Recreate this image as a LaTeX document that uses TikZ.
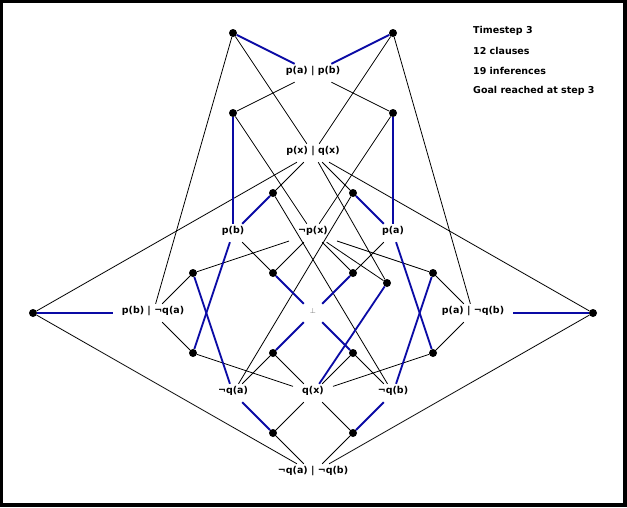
\documentclass[tikz,border=0pt]{standalone}
\usepackage{fontspec}
\setmainfont{DejaVu Sans}
\usepackage{xcolor}
\definecolor{azul}{RGB}{10,10,165}

\begin{document}
\begin{tikzpicture}[x=1pt,y=-1pt,
  clausula/.style={font=\fontsize{9.5}{11}\selectfont\bfseries,inner xsep=9pt,inner ysep=1.5pt,
    text height=7.5pt,text depth=7.5pt},
  inferencia/.style={circle,fill=black,inner sep=0pt,minimum size=8pt},
  premisa/.style={black,line width=0.8pt},
  conclusion/.style={azul,line width=1.8pt},
  dato/.style={font=\fontsize{9.5}{11}\selectfont\bfseries,anchor=west,inner sep=0pt}]
  % Marco
  \fill[black] (0,0) rectangle (627,507);
  \fill[white] (3,3) rectangle (623,503);
  % Clausulas
  \node[clausula] (pab) at (313,73) {p(a) | p(b)};
  \node[clausula] (pxqx) at (313,153) {p(x) | q(x)};
  \node[clausula] (pb) at (233,233) {p(b)};
  \node[clausula] (npx) at (313,233) {¬p(x)};
  \node[clausula] (pa) at (393,233) {p(a)};
  \node[clausula] (pbnqa) at (153,313) {p(b) | ¬q(a)};
  \node[clausula,font=\fontsize{7}{8}\selectfont,text=gray,minimum width=18pt] (bot) at (313,313) {⊥};
  \node[clausula] (panqb) at (473,313) {p(a) | ¬q(b)};
  \node[clausula] (nqa) at (233,393) {¬q(a)};
  \node[clausula] (qx) at (313,393) {q(x)};
  \node[clausula] (nqb) at (393,393) {¬q(b)};
  \node[clausula] (nqanqb) at (313,473) {¬q(a) | ¬q(b)};
  % Inferencias
  \node[inferencia] (i1) at (233,33) {};
  \node[inferencia] (i2) at (393,33) {};
  \node[inferencia] (i3) at (233,113) {};
  \node[inferencia] (i4) at (393,113) {};
  \node[inferencia] (i5) at (273,193) {};
  \node[inferencia] (i6) at (353,193) {};
  \node[inferencia] (i7) at (193,273) {};
  \node[inferencia] (i8) at (273,273) {};
  \node[inferencia] (i9) at (353,273) {};
  \node[inferencia] (i10) at (433,273) {};
  \node[inferencia] (i11) at (387,283) {};
  \node[inferencia] (i12) at (33,313) {};
  \node[inferencia] (i13) at (593,313) {};
  \node[inferencia] (i14) at (193,353) {};
  \node[inferencia] (i15) at (273,353) {};
  \node[inferencia] (i16) at (353,353) {};
  \node[inferencia] (i17) at (433,353) {};
  \node[inferencia] (i18) at (273,433) {};
  \node[inferencia] (i19) at (353,433) {};
  % Premisas
  \draw[premisa] (i1) -- (pxqx) (i1) -- (pbnqa);
  \draw[premisa] (i2) -- (pxqx) (i2) -- (panqb);
  \draw[premisa] (i3) -- (pab) (i3) -- (npx);
  \draw[premisa] (i4) -- (pab) (i4) -- (npx);
  \draw[premisa] (i5) -- (pxqx) (i5) -- (nqb);
  \draw[premisa] (i6) -- (pxqx) (i6) -- (nqa);
  \draw[premisa] (i7) -- (npx) (i7) -- (pbnqa);
  \draw[premisa] (i8) -- (pb) (i8) -- (npx);
  \draw[premisa] (i9) -- (pa) (i9) -- (npx);
  \draw[premisa] (i10) -- (npx) (i10) -- (panqb);
  \draw[premisa] (i11) -- (pxqx) (i11) -- (npx);
  \draw[premisa] (i12) -- (pxqx) (i12) -- (nqanqb);
  \draw[premisa] (i13) -- (pxqx) (i13) -- (nqanqb);
  \draw[premisa] (i14) -- (pbnqa) (i14) -- (qx);
  \draw[premisa] (i15) -- (nqa) (i15) -- (qx);
  \draw[premisa] (i16) -- (qx) (i16) -- (nqb);
  \draw[premisa] (i17) -- (panqb) (i17) -- (qx);
  \draw[premisa] (i18) -- (qx) (i18) -- (nqanqb);
  \draw[premisa] (i19) -- (qx) (i19) -- (nqanqb);
  % Conclusiones
  \draw[conclusion] (i1) -- (pab);
  \draw[conclusion] (i2) -- (pab);
  \draw[conclusion] (i3) -- (pb);
  \draw[conclusion] (i4) -- (pa);
  \draw[conclusion] (i5) -- (pb);
  \draw[conclusion] (i6) -- (pa);
  \draw[conclusion] (i7) -- (nqa);
  \draw[conclusion] (i8) -- (bot);
  \draw[conclusion] (i9) -- (bot);
  \draw[conclusion] (i10) -- (nqb);
  \draw[conclusion] (i11) -- (qx);
  \draw[conclusion] (i12) -- (pbnqa);
  \draw[conclusion] (i13) -- (panqb);
  \draw[conclusion] (i14) -- (pb);
  \draw[conclusion] (i15) -- (bot);
  \draw[conclusion] (i16) -- (bot);
  \draw[conclusion] (i17) -- (pa);
  \draw[conclusion] (i18) -- (nqa);
  \draw[conclusion] (i19) -- (nqb);
  % Datos
  \node[dato] (paso) at (473,31) {Timestep 3};
  \node[dato] (nclaus) at (473,51) {12 clauses};
  \node[dato] (ninf) at (473,71) {19 inferences};
  \node[dato] (meta) at (473,91) {Goal reached at step 3};
\end{tikzpicture}
\end{document}
